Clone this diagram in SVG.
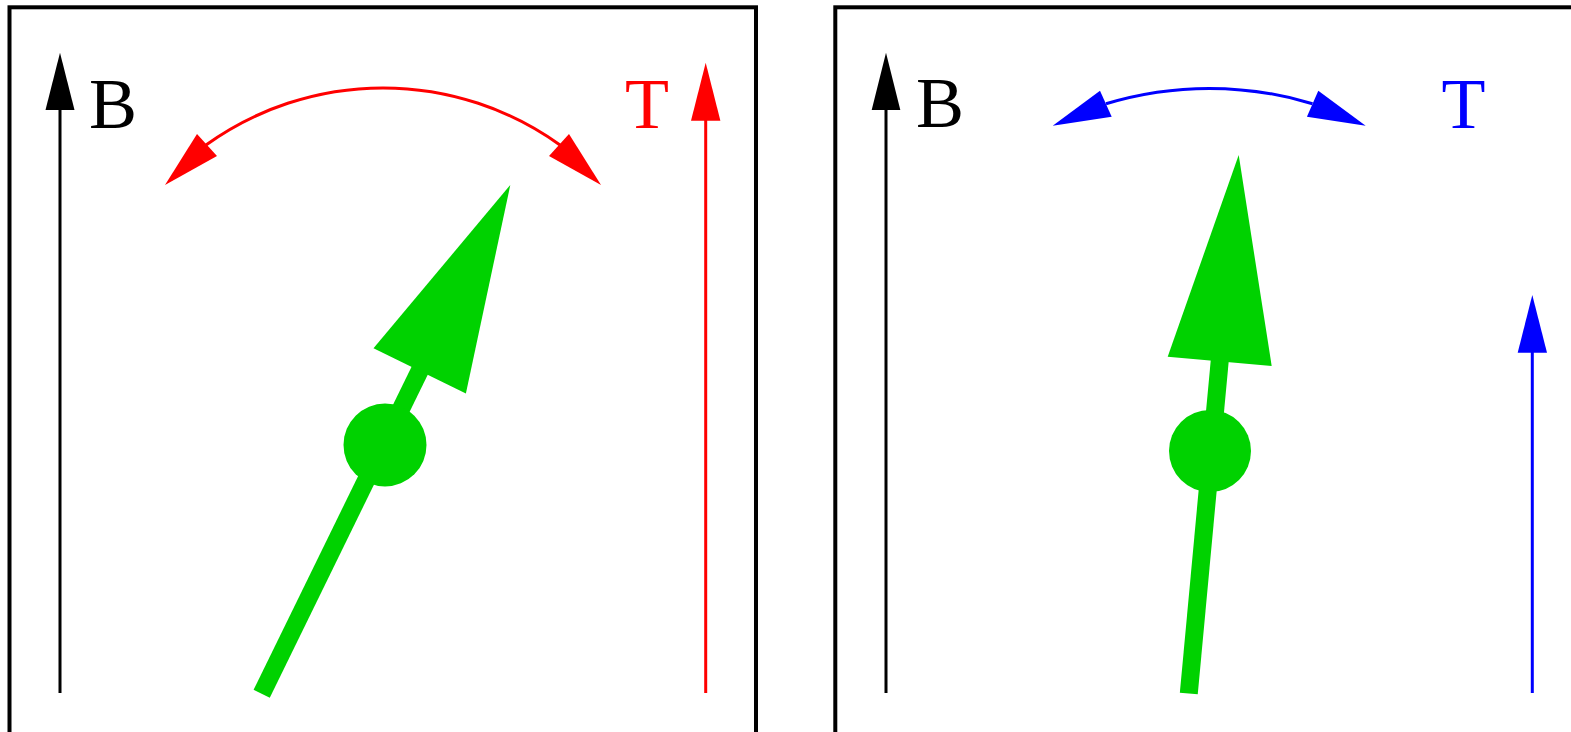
<svg xmlns="http://www.w3.org/2000/svg" width="1571" height="732" viewBox="0 0 1571 732">
<style>
.frame{fill:none;stroke:#000;stroke-width:4}
.lbl{font-family:"Liberation Serif","Times New Roman",serif;font-size:72px}
.thin{fill:none;stroke-width:3}
.spin{fill:none;stroke:#00D200;stroke-width:18}
.g{fill:#00D200}
.k{stroke:#000}.kf{fill:#000}
.r{stroke:#FF0000}.rf{fill:#FF0000}
.b{stroke:#0000FF}.bf{fill:#0000FF}
</style>
<rect width="1571" height="732" fill="#fff"/>
<g id="panel-left">
  <rect class="frame" x="9.5" y="7.3" width="746.5" height="800"/>
</g>
<g id="panel-right">
  <rect class="frame" x="835.3" y="7.3" width="800" height="800"/>
</g>
<g id="connectors">
  <g id="B-left">
    <line class="thin k" x1="60" y1="108" x2="60" y2="693"/>
    <polygon class="kf" points="60,52.7 45.5,110 74.5,110"/>
  </g>
  <g id="T-left">
    <line class="thin r" x1="705.7" y1="118" x2="705.7" y2="693"/>
    <polygon class="rf" points="705.7,62.7 691,120.7 720.4,120.7"/>
  </g>
  <g id="arc-left">
    <path class="thin r" d="M206,145 A303,303 0 0 1 560,145"/>
    <polygon class="rf" points="165,185 197,134 217,156"/>
    <polygon class="rf" points="601,185 569,134 549,156"/>
  </g>
  <g id="B-right">
    <line class="thin k" x1="886" y1="108" x2="886" y2="693"/>
    <polygon class="kf" points="886,52.7 871.7,110 900.3,110"/>
  </g>
  <g id="T-right">
    <line class="thin b" x1="1532.3" y1="350" x2="1532.3" y2="693"/>
    <polygon class="bf" points="1532.3,295 1517.7,352.7 1547,352.7"/>
  </g>
  <g id="arc-right">
    <path class="thin b" d="M1106,103.7 A356,356 0 0 1 1312.5,103.7"/>
    <polygon class="bf" points="1052.7,125.7 1100,90.7 1111.7,116.7"/>
    <polygon class="bf" points="1365.7,125.7 1318.3,90.7 1306.9,116.7"/>
  </g>
</g>
<g id="spin-left">
  <line class="spin" x1="261.7" y1="693.7" x2="421" y2="368"/>
  <circle class="g" cx="385" cy="445" r="41.5"/>
  <polygon class="g" points="510.3,185 373.5,348.2 465.9,393.4"/>
</g>
<g id="spin-right">
  <line class="spin" x1="1188.8" y1="693.5" x2="1219.9" y2="359"/>
  <circle class="g" cx="1210" cy="451" r="41"/>
  <polygon class="g" points="1238.7,155 1167.7,356.7 1271.7,366"/>
</g>
<g id="labels">
  <text class="lbl" x="89" y="128" fill="#000">B</text>
  <text class="lbl" x="625" y="128" fill="#FF0000">T</text>
  <text class="lbl" x="916" y="127" fill="#000">B</text>
  <text class="lbl" x="1441.5" y="128" fill="#0000FF">T</text>
</g>
</svg>
